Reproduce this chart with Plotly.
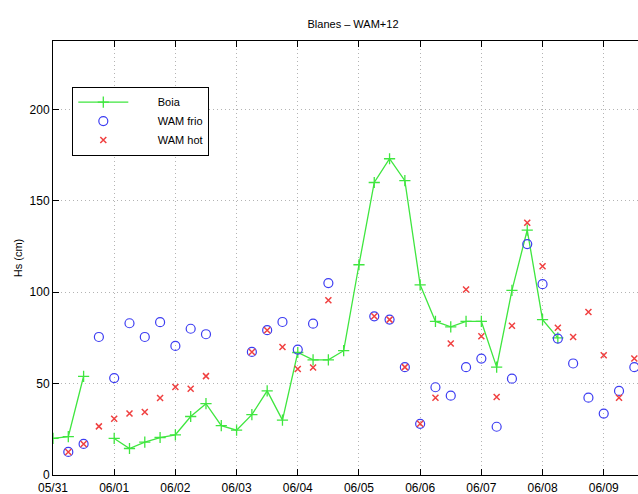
import pandas as pd
import plotly.graph_objects as go

# Six-hourly series starting 2002-05-31 00:00
start = "2002-05-31 00:00"
n_steps = 39

# Buoy observations (Hs, cm); None = no record
boia = [20, 21, 54, None, 20, 14.5, 18, 20.5, 22, 32,
        39, 27, 24.5, 33, 46, 30, 67, 63, 63, 68,
        115, 160, 173, 161, 104, 84, 81, 84, 84, 59,
        101, 134, 85, 75, None, None, None, None, None]

# WAM cold-start run
wam_frio = [None, 12.6, 17, 75.5, 53, 83, 75.5, 83.6, 70.6, 80,
            77, None, None, 67.3, 79.2, 83.7, 68.6, 82.8, 105, None,
            None, 86.8, 85, 59, 28, 48, 43.4, 59, 63.7, 26.4,
            52.7, 126.3, 104.4, 74.6, 61, 42.3, 33.6, 46, 59]

# WAM hot-start run
wam_hot = [None, 12.6, 17, 26.6, 30.8, 33.6, 34.5, 42.1, 48.1, 47.2,
           54.1, None, None, 67.3, 79.2, 70, 58, 58.8, 95.6, None,
           None, 86.8, 85, 59, 28, 42.3, 71.9, 101.5, 75.9, 42.7,
           81.6, 138, 114.2, 80.5, 75.5, 89.2, 65.5, 42.3, 63.7]

series_names = ["Boia", "WAM frio", "WAM hot"]

times = pd.date_range(start, periods=n_steps, freq="6h")
tick_days = pd.date_range("2002-05-31", "2002-06-09", freq="D")
tick_labels = [d.strftime("%m/%d") for d in tick_days]

GREEN = "#3fe63f"
BLUE = "#3d3df2"
RED = "#f04040"
FONT = "Liberation Sans, Arial, sans-serif"
PAD = "\u00a0" * 8  # pushes legend labels right of the symbol column

fig = go.Figure()
fig.add_trace(go.Scatter(
    x=times, y=boia, name=PAD + series_names[0], mode="lines+markers",
    connectgaps=False,
    line=dict(color=GREEN, width=1.3),
    marker=dict(symbol="cross-thin", size=8, line=dict(color=GREEN, width=1.3)),
))
fig.add_trace(go.Scatter(
    x=times, y=wam_frio, name=PAD + series_names[1], mode="markers",
    marker=dict(symbol="circle-open", size=9, color=BLUE, line=dict(width=1.2)),
))
fig.add_trace(go.Scatter(
    x=times, y=wam_hot, name=PAD + series_names[2], mode="markers",
    marker=dict(symbol="x-thin", size=6, line=dict(color=RED, width=1.5)),
))

x_end = pd.Timestamp(start) + pd.Timedelta(days=9.56)
GRID = dict(showgrid=True, gridcolor="#b4b4b4", griddash="1px,3px", gridwidth=1)

fig.update_layout(
    width=638, height=494,
    margin=dict(l=53, r=0, t=41, b=19),
    paper_bgcolor="white", plot_bgcolor="white",
    font=dict(family=FONT, size=12, color="black"),
    title=dict(text="Blanes \u2013 WAM+12", x=353 / 638, xref="container",
               xanchor="center", y=1 - 24 / 494, yref="container",
               yanchor="middle", font=dict(size=11)),
    showlegend=True,
    legend=dict(x=0.033, y=0.895, xanchor="left", yanchor="top",
                bordercolor="black", borderwidth=1, bgcolor="white",
                font=dict(size=11), itemwidth=50, tracegroupgap=0),
    xaxis=dict(
        range=[pd.Timestamp(start), x_end],
        tickmode="array", tickvals=tick_days, ticktext=tick_labels,
        ticks="inside", ticklen=6, tickcolor="black",
        showline=True, linecolor="black", linewidth=1, mirror="ticks",
        zeroline=False, automargin=False, ticklabelstandoff=2,
        tickfont=dict(size=12), **GRID,
    ),
    yaxis=dict(
        range=[0, 237.4],
        tickvals=[0, 50, 100, 150, 200],
        ticks="inside", ticklen=6, tickcolor="black",
        showline=True, linecolor="black", linewidth=1, mirror=False,
        zeroline=False, automargin=False,
        title=dict(text="Hs (cm)", font=dict(size=11), standoff=4),
        tickfont=dict(size=12), **GRID,
    ),
)

fig.write_html("out.html")
